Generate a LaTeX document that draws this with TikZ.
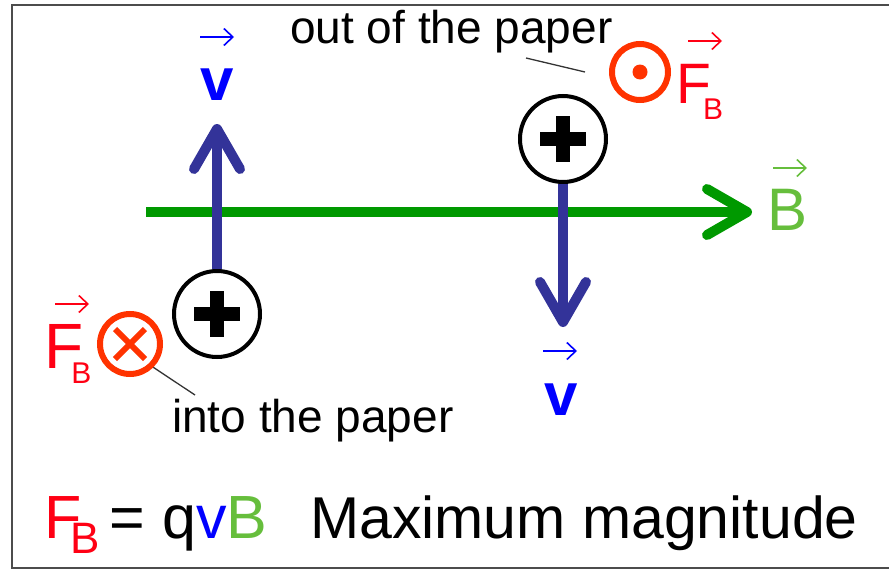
\documentclass[tikz,border=0pt]{standalone}
\usepackage{fontspec}
\setmainfont{Liberation Sans}
\usepackage{xcolor}
\usetikzlibrary{arrows.meta, positioning}
\definecolor{bluevel}{RGB}{51,51,153}
\definecolor{bluetext}{RGB}{0,0,255}
\definecolor{greenfield}{RGB}{0,153,0}
\definecolor{greenlabel}{RGB}{102,190,60}
\definecolor{redforce}{RGB}{255,51,0}
\definecolor{redlabel}{RGB}{255,0,20}
\tikzset{
  charge/.style={circle, draw=black, fill=white, line width=4pt, minimum size=86pt, inner sep=0pt,
    path picture={\fill[black] ([xshift=-23pt,yshift=-7pt]path picture bounding box.center) rectangle ++(46pt,14pt);
      \fill[black] ([xshift=-7pt,yshift=-23pt]path picture bounding box.center) rectangle ++(14pt,46pt);}},
  intopaper/.style={circle, draw=redforce, line width=6pt, minimum size=60pt, inner sep=0pt,
    path picture={\draw[redforce, line width=6pt] ([xshift=-15pt,yshift=-15pt]path picture bounding box.center) -- ++(30pt,30pt);
      \draw[redforce, line width=6pt] ([xshift=-15pt,yshift=15pt]path picture bounding box.center) -- ++(30pt,-30pt);}},
  outofpaper/.style={circle, draw=redforce, line width=6pt, minimum size=56pt, inner sep=0pt,
    path picture={\fill[redforce] (path picture bounding box.center) circle (7.5pt);}},
  fieldarrow/.style={draw=greenfield, line width=10pt, -{Straight Barb[length=40pt, width=46pt, round]}},
  velarrow/.style={draw=bluevel, line width=10pt, -{Straight Barb[length=40pt, width=46pt, round]}},
  leader/.style={draw=black!80, line width=1.3pt},
  overarrow/.style={line width=1.6pt, -{Straight Barb[length=9pt, width=17pt]}},
  txt/.style={inner sep=0pt, anchor=base west},
  vlabel/.style={inner sep=0pt, anchor=base, text=bluetext, font=\fontsize{60pt}{60pt}\selectfont\bfseries},
}

\begin{document}
\begin{tikzpicture}[x=1pt, y=-1pt]
  \useasboundingbox (0,0) rectangle (889,570);
  \draw[black!70, line width=2.5pt] (12,5) rectangle (905,568);
  % field B
  \coordinate (b0) at (146,212);
  \coordinate (b1) at (752,212);
  \draw[fieldarrow] (b0) -- (b1);
  \node[txt, anchor=base, text=greenlabel, font=\fontsize{60pt}{60pt}\selectfont] (blab) at (788,230) {B};
  % charges and velocities
  \node[charge] (p1) at (217,314) {};
  \node[charge] (p2) at (563,139) {};
  \coordinate (v1tip) at (217,124);
  \coordinate (v2tip) at (563,327);
  \draw[velarrow] (p1) -- (v1tip);
  \draw[velarrow] (p2) -- (v2tip);
  \node[vlabel] (v1) at (217,100) {v};
  \node[vlabel] (v2) at (561,415) {v};
  % forces
  \node[outofpaper] (fout) at (640,72) {};
  \node[txt, text=redlabel, font=\fontsize{57pt}{57pt}\selectfont] (f2) at (676,103)
    {F\kern-8pt\raisebox{-16pt}{\fontsize{30pt}{30pt}\selectfont B}};
  \node[intopaper] (fin) at (130,344) {};
  \node[txt, text=redlabel, font=\fontsize{64pt}{64pt}\selectfont] (f1) at (44,368)
    {F\kern-12pt\raisebox{-15pt}{\fontsize{30pt}{30pt}\selectfont B}};
  % vector marks over the letters
  \foreach \x/\y/\c in {200/37/bluetext, 543/351/bluetext, 55/304/redlabel, 688/41/redlabel, 773/168/greenlabel}
    { \draw[overarrow, \c] (\x,\y) -- ++(34,0); }
  % notes
  \node[txt, font=\fontsize{46pt}{46pt}\selectfont] (outlab) at (290,43) {out of the paper};
  \coordinate (outtick0) at (526,58);
  \coordinate (outtick1) at (585,72);
  \draw[leader] (outtick0) -- (outtick1);
  \node[txt, font=\fontsize{46pt}{46pt}\selectfont] (intolab) at (172,432) {into the paper};
  \coordinate (intotick) at (195,395);
  \draw[leader] (fin.-45) -- (intotick);
  % formula
  \node[txt, font=\fontsize{61pt}{61pt}\selectfont] (formula) at (44,538)
    {\textcolor{redlabel}{F\kern-11pt\raisebox{-15pt}{\fontsize{44pt}{44pt}\selectfont B}}\,= q\textcolor{bluetext}{v}\textcolor{greenlabel}{B}};
  \node[txt, font=\fontsize{59pt}{59pt}\selectfont] (maxmag) at (310,538) {Maximum magnitude};
\end{tikzpicture}
\end{document}
